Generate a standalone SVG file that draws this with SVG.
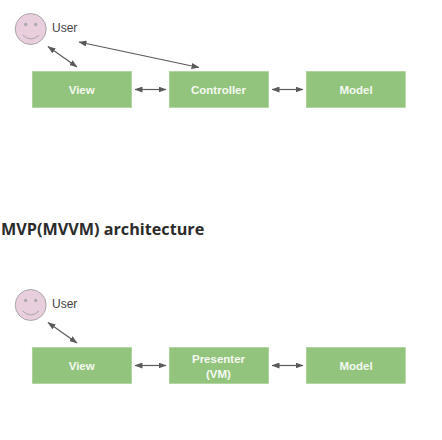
<svg xmlns="http://www.w3.org/2000/svg" width="442" height="440" viewBox="0 0 442 440">
<defs>
<marker id="a" viewBox="0 0 8 6" refX="7.5" refY="3" markerWidth="8" markerHeight="6" markerUnits="userSpaceOnUse" orient="auto-start-reverse"><path d="M0 0L8 3L0 6Z" fill="#5a5a5a"/></marker>
</defs>
<style>
.box{fill:#93c47d;stroke:#a9d196;stroke-width:.7}
.lbl{font:bold 11.5px "Liberation Sans",Arial,sans-serif;fill:#f4f9f1;text-anchor:middle}
.usr{font:12px "Liberation Sans",Arial,sans-serif;fill:#444}
.face{fill:#e9cfdd;stroke:#999;stroke-width:.8}
.eye{fill:#aaa}
.sm{fill:none;stroke:#999;stroke-width:.8}
.c{stroke:#5a5a5a;stroke-width:1.2;fill:none;marker-start:url(#a);marker-end:url(#a)}
</style>
<rect width="442" height="440" fill="#fff"/>
<g id="connectors">
<path class="c" d="M48 46.500L77 67"/>
<path class="c" d="M79 42L199 67.500"/>
<path class="c" d="M135 89.500H166"/>
<path class="c" d="M272 89.500H303"/>
<path class="c" d="M48 322.500L77 343"/>
<path class="c" d="M135 365.500H166"/>
<path class="c" d="M272 365.500H303"/>
</g>
<g id="user1">
<circle class="face" cx="30.700" cy="29" r="15.500"/>
<circle class="eye" cx="25.700" cy="24.500" r="1.700"/><circle class="eye" cx="35.700" cy="24.500" r="1.700"/>
<path class="sm" d="M22.700 35Q31 43 39 35"/>
<text class="usr" x="52" y="32.300">User</text>
</g>
<g id="view1"><rect class="box" x="32.300" y="71.500" width="99.300" height="36"/><text class="lbl" x="81.700" y="94">View</text></g>
<g id="controller"><rect class="box" x="169.300" y="71.500" width="99.300" height="36"/><text class="lbl" x="218.500" y="94">Controller</text></g>
<g id="model1"><rect class="box" x="306.300" y="71.500" width="99" height="36"/><text class="lbl" x="356" y="94">Model</text></g>
<text id="title" x="1" y="234.500" font-family="'Open Sans','Noto Sans',sans-serif" font-weight="700" font-size="16.200" fill="#2b2b2b">MVP(MVVM) architecture</text>
<g id="user2">
<circle class="face" cx="30.700" cy="305" r="15.500"/>
<circle class="eye" cx="25.700" cy="300.500" r="1.700"/><circle class="eye" cx="35.700" cy="300.500" r="1.700"/>
<path class="sm" d="M22.700 311Q31 319 39 311"/>
<text class="usr" x="52" y="308.300">User</text>
</g>
<g id="view2"><rect class="box" x="32.300" y="347.500" width="99.300" height="36"/><text class="lbl" x="81.700" y="370">View</text></g>
<g id="presenter"><rect class="box" x="169.300" y="347.500" width="99.300" height="36"/><text class="lbl" x="218.500" y="362.500">Presenter</text><text class="lbl" x="218.500" y="377.500">(VM)</text></g>
<g id="model2"><rect class="box" x="306.300" y="347.500" width="99" height="36"/><text class="lbl" x="356" y="370">Model</text></g>
</svg>
